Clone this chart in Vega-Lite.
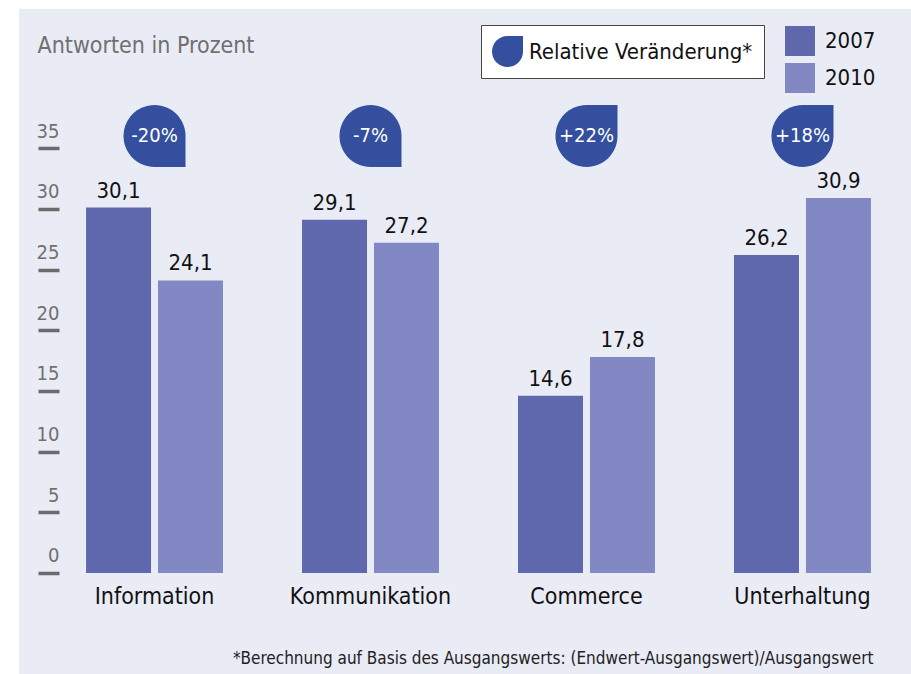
{
  "$schema": "https://vega.github.io/schema/vega-lite/v6.json",
  "width": 892,
  "height": 665,
  "autosize": {"type": "none"},
  "padding": {"left": 19, "top": 9, "right": 0, "bottom": 0},
  "background": "white",
  "config": {
    "view": {"fill": "#e9ebf5", "stroke": null},
    "font": "Liberation Sans Narrow, DejaVu Sans Condensed, sans-serif",
    "locale": {"number": {"decimal": ",", "thousands": ".", "grouping": [3], "currency": ["", " €"]}}
  },
  "datasets": {
    "bars": [
      {"Bereich": "Information", "Jahr": "2007", "Wert": 30.1},
      {"Bereich": "Information", "Jahr": "2010", "Wert": 24.1},
      {"Bereich": "Kommunikation", "Jahr": "2007", "Wert": 29.1},
      {"Bereich": "Kommunikation", "Jahr": "2010", "Wert": 27.2},
      {"Bereich": "Commerce", "Jahr": "2007", "Wert": 14.6},
      {"Bereich": "Commerce", "Jahr": "2010", "Wert": 17.8},
      {"Bereich": "Unterhaltung", "Jahr": "2007", "Wert": 26.2},
      {"Bereich": "Unterhaltung", "Jahr": "2010", "Wert": 30.9}
    ],
    "changes": [
      {"Bereich": "Information", "Aenderung": "-20%", "Richtung": "neg"},
      {"Bereich": "Kommunikation", "Aenderung": "-7%", "Richtung": "neg"},
      {"Bereich": "Commerce", "Aenderung": "+22%", "Richtung": "pos"},
      {"Bereich": "Unterhaltung", "Aenderung": "+18%", "Richtung": "pos"}
    ]
  },
  "layer": [
    {
      "data": {"name": "bars"},
      "mark": {"type": "bar"},
      "encoding": {
        "x": {
          "field": "Bereich", "type": "nominal",
          "scale": {"domain": ["Information", "Kommunikation", "Commerce", "Unterhaltung"], "paddingInner": 0.366, "paddingOuter": 0.248, "align": 0.626},
          "axis": {
            "title": "*Berechnung auf Basis des Ausgangswerts: (Endwert-Ausgangswert)/Ausgangswert",
            "orient": "bottom", "offset": -101, "domain": false, "ticks": false, "tickSize": 0,
            "labelPadding": 12, "labelFontSize": 23, "labelLimit": 400, "labelColor": "#111111", "labelAngle": 0, "labelBaseline": "top",
            "titleX": 854, "titleY": 90, "titleAlign": "right", "titleAnchor": "end", "titleBaseline": "alphabetic",
            "titleFontSize": 17, "titleFontWeight": "normal", "titleColor": "#222222", "titleLimit": 900
          }
        },
        "xOffset": {"field": "Jahr", "type": "nominal", "scale": {"paddingInner": 0.097, "paddingOuter": 0}},
        "y": {
          "field": "Wert", "type": "quantitative",
          "scale": {"domain": [-8.32, 46.46], "nice": false, "zero": false},
          "axis": {
            "title": "Antworten in Prozent",
            "orient": "left", "offset": -40, "values": [0, 5, 10, 15, 20, 25, 30, 35],
            "domain": false, "grid": false,
            "tickSize": 21, "tickWidth": 3.5, "tickColor": "#6b6b6b",
            "labelPadding": -21, "labelAlign": "right", "labelBaseline": "alphabetic", "labelOffset": -11,
            "labelFontSize": 20, "labelColor": "#707070",
            "titleAngle": 0, "titleAlign": "left", "titleBaseline": "alphabetic", "titleAnchor": "start",
            "titleX": -22, "titleY": 43, "titleFontSize": 23, "titleFontWeight": "normal", "titleColor": "#707070", "titleLimit": 400
          }
        },
        "y2": {"datum": 0},
        "color": {
          "field": "Jahr", "type": "nominal",
          "scale": {"domain": ["2007", "2010"], "range": ["#5f68ad", "#8288c4"]},
          "legend": {
            "orient": "none", "legendX": 766, "legendY": 17, "title": null,
            "symbolType": "square", "symbolSize": 900, "symbolStrokeWidth": 0,
            "labelFontSize": 22, "labelColor": "#111111", "labelOffset": 10, "rowPadding": 7, "padding": 0
          }
        }
      }
    },
    {
      "data": {"name": "bars"},
      "mark": {"type": "text", "baseline": "alphabetic", "align": "center", "dy": -10, "fontSize": 22, "color": "#111111"},
      "encoding": {
        "x": {"field": "Bereich", "type": "nominal", "scale": {"domain": ["Information", "Kommunikation", "Commerce", "Unterhaltung"]}},
        "xOffset": {"field": "Jahr", "type": "nominal"},
        "y": {"field": "Wert", "type": "quantitative"},
        "text": {"field": "Wert", "type": "quantitative", "format": ".1f"}
      }
    },
    {
      "data": {"name": "changes"},
      "mark": {"type": "point", "filled": true, "size": 3844, "opacity": 1, "strokeWidth": 0},
      "encoding": {
        "x": {"field": "Bereich", "type": "nominal", "scale": {"domain": ["Information", "Kommunikation", "Commerce", "Unterhaltung"]}},
        "y": {"datum": 36},
        "shape": {
          "field": "Richtung", "type": "nominal",
          "scale": {"domain": ["neg", "pos"], "range": ["M1,0L1,1L0,1A1,1,0,1,1,1,0Z", "M0,-1L1,-1L1,0A1,1,0,1,1,0,-1Z"]},
          "legend": null
        },
        "fill": {
          "datum": "Relative Veränderung*",
          "scale": {"range": ["#334f9e"]},
          "legend": {
            "orient": "none", "legendX": 462, "legendY": 16, "title": null,
            "fillColor": "white", "strokeColor": "#444444", "padding": 11,
            "symbolType": "M0,-1L1,-1L1,0A1,1,0,1,1,0,-1Z", "symbolSize": 961, "symbolStrokeWidth": 0,
            "labelFontSize": 22, "labelLimit": 400, "labelColor": "#111111", "labelOffset": 6
          }
        }
      }
    },
    {
      "data": {"name": "changes"},
      "mark": {"type": "text", "baseline": "middle", "align": "center", "fontSize": 20, "color": "white"},
      "encoding": {
        "x": {"field": "Bereich", "type": "nominal", "scale": {"domain": ["Information", "Kommunikation", "Commerce", "Unterhaltung"]}},
        "y": {"datum": 36},
        "text": {"field": "Aenderung", "type": "nominal"}
      }
    }
  ]
}
